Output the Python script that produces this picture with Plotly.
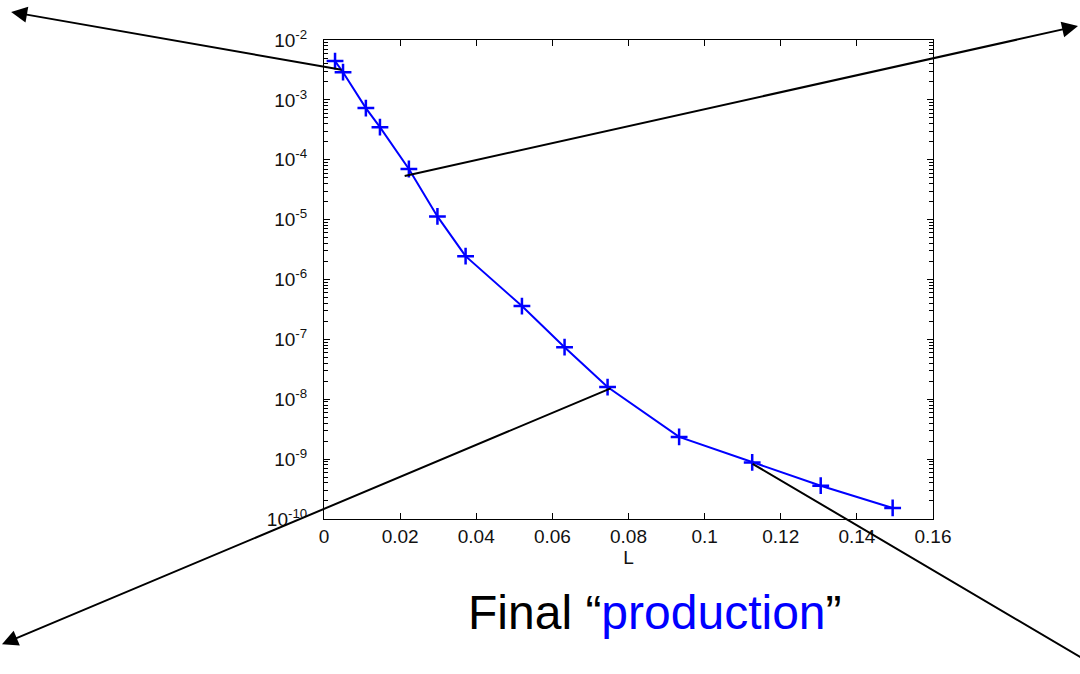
import plotly.graph_objects as go

# Data
L_values = [0.0029, 0.0050, 0.0110, 0.0147, 0.0223, 0.0298, 0.0372, 0.0520,
            0.0632, 0.0745, 0.0933, 0.1125, 0.1305, 0.1494]
err_values = [4.45e-3, 2.9e-3, 7.3e-4, 3.5e-4, 7.0e-5, 1.13e-5, 2.45e-6, 3.6e-7,
              7.4e-8, 1.6e-8, 2.35e-9, 8.8e-10, 3.6e-10, 1.53e-10]

y_tick_exps = [-2, -3, -4, -5, -6, -7, -8, -9, -10]
x_tick_vals = [0, 0.02, 0.04, 0.06, 0.08, 0.1, 0.12, 0.14, 0.16]
x_tick_text = ["0", "0.02", "0.04", "0.06", "0.08", "0.1", "0.12", "0.14", "0.16"]

# Call-out arrows (tail -> head), L units and log10 units
arrow_tail_L = [0.0050, 0.0208, 0.0757, 0.1122]
arrow_tail_logv = [-2.502, -4.276, -7.808, -9.063]
arrow_head_L = [-0.0822, 0.1981, -0.0846, 0.2091]
arrow_head_logv = [-1.531, -1.766, -12.092, -12.695]

FONT = "Liberation Sans, Arial, sans-serif"

fig = go.Figure()
fig.add_trace(go.Scatter(
    x=L_values, y=err_values, mode="lines+markers",
    line=dict(color="#0000ff", width=2),
    marker=dict(symbol="cross-thin", size=12, line=dict(color="#0000ff", width=2.5)),
    showlegend=False, cliponaxis=False,
))

fig.update_layout(
    width=1080, height=674,
    margin=dict(l=324, r=147, t=40, b=155),
    paper_bgcolor="white", plot_bgcolor="white",
    font=dict(family=FONT, size=19, color="#111"),
    xaxis=dict(
        range=[0, 0.16], tickmode="array", tickvals=x_tick_vals, ticktext=x_tick_text,
        ticks="inside", ticklen=6, tickcolor="black", showline=True, linecolor="black",
        linewidth=1, mirror="ticks", showgrid=False, zeroline=False,
        title=dict(text="L", font=dict(size=19), standoff=4),
        tickfont=dict(size=19),
    ),
    yaxis=dict(
        type="log", range=[-10, -2], tickmode="array",
        tickvals=[10.0 ** e for e in y_tick_exps],
        ticktext=["10<sup>%d</sup>" % e for e in y_tick_exps],
        ticks="inside", ticklen=6, tickcolor="black", showline=True, linecolor="black",
        linewidth=1, mirror="ticks", showgrid=False, zeroline=False,
        tickfont=dict(size=19), ticklabelstandoff=12,
        minor=dict(dtick="D1", ticks="inside", ticklen=4,
                   tickcolor="black", tickwidth=1, showgrid=False),
    ),
)

for tx, ty, hx, hy in zip(arrow_tail_L, arrow_tail_logv, arrow_head_L, arrow_head_logv):
    fig.add_annotation(
        x=hx, y=hy, xref="x", yref="y",
        ax=tx, ay=ty, axref="x", ayref="y",
        text="", showarrow=True, arrowhead=2, arrowsize=1.6, arrowwidth=2,
        arrowcolor="black",
    )

fig.add_annotation(
    x=(655 - 324) / 609, y=-(612 - 519) / 479, xref="paper", yref="paper",
    text='Final \u201c<span style="color:#0000ff">production</span>\u201d',
    showarrow=False, font=dict(family=FONT, size=48, color="black"),
    xanchor="center", yanchor="middle",
)

fig.write_html("out.html")
